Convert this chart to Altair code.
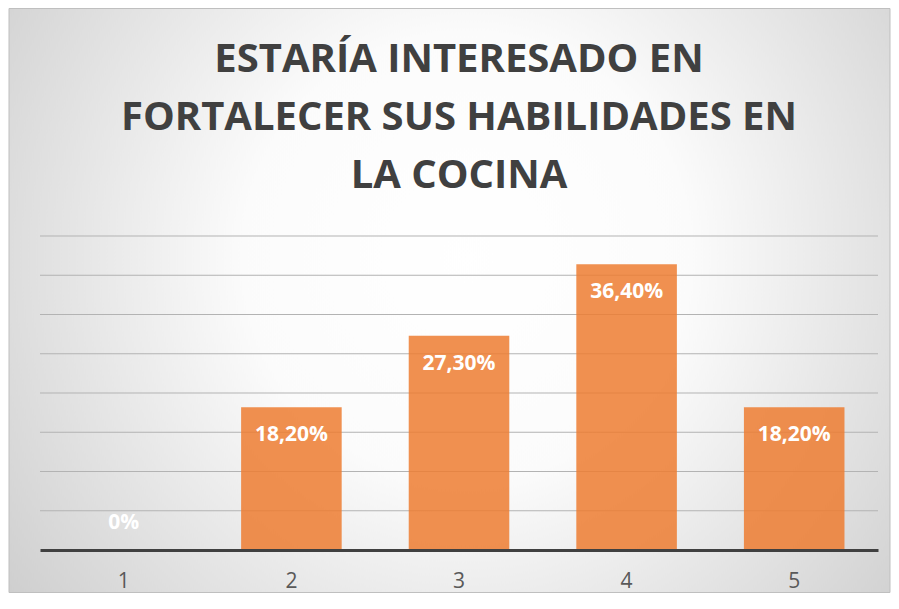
import altair as alt
import pandas as pd

categories = ["1", "2", "3", "4", "5"]
values = [0.0, 0.182, 0.273, 0.364, 0.182]
labels = ["0%", "18,20%", "27,30%", "36,40%", "18,20%"]
grid_values = [0.05, 0.10, 0.15, 0.20, 0.25, 0.30, 0.35, 0.40]
title_lines = ["ESTARÍA INTERESADO EN", "FORTALECER SUS HABILIDADES EN", "LA COCINA"]

W, H = 838, 314
df = pd.DataFrame({"cat": categories, "val": values, "lab": labels})
grid_df = pd.DataFrame({"g": grid_values})

yscale = alt.Scale(domain=[0, 0.40], nice=False, zero=True)
xenc = alt.X("cat:N", sort=categories, title=None,
             scale=alt.Scale(paddingInner=0.4, paddingOuter=0.2),
             axis=alt.Axis(labelAngle=0, labelFontSize=21, labelColor="#595959",
                           labelFont="Open Sans", labelPadding=20,
                           ticks=False, domain=True, domainColor="#404040",
                           domainWidth=3, grid=False, zindex=1))

bg = alt.Chart(alt.Data(values=[{}])).mark_rect(
    fill={"gradient": "radial", "x1": 0.52, "y1": 0.45, "r1": 0,
          "x2": 0.52, "y2": 0.45, "r2": 0.72,
          "stops": [{"offset": 0, "color": "#ffffff"},
                    {"offset": 0.35, "color": "#fbfbfb"},
                    {"offset": 1, "color": "#c6c6c6"}]},
    stroke="#bfbfbf", strokeWidth=1
).encode(x=alt.value(-31), x2=alt.value(850), y=alt.value(-227.5), y2=alt.value(356.5))

title = alt.Chart(alt.Data(values=[{}])).mark_text(
    text=title_lines, font="Open Sans", fontWeight="bold", fontSize=40,
    color="#404040", lineHeight=58, align="center", baseline="alphabetic"
).encode(x=alt.value(W / 2), y=alt.value(-164))

grid = alt.Chart(grid_df).mark_rule(color="#b3b3b3", strokeWidth=1).encode(
    y=alt.Y("g:Q", scale=yscale, axis=None),
    x=alt.value(0), x2=alt.value(W))

bars = alt.Chart(df).mark_bar(color="#ED7D31", opacity=0.85).encode(
    x=xenc,
    y=alt.Y("val:Q", scale=yscale, axis=None))

text_style = dict(color="white", fontWeight="bold", fontSize=21,
                  font="Open Sans", baseline="middle", align="center")
text_enc = dict(x=alt.X("cat:N", sort=categories),
                y=alt.Y("val:Q", scale=yscale, axis=None),
                text="lab:N")

text_in = alt.Chart(df).mark_text(dy=28, **text_style).encode(**text_enc).transform_filter(
    alt.datum.val > 0)
text_zero = alt.Chart(df).mark_text(dy=-27, **text_style).encode(**text_enc).transform_filter(
    alt.datum.val <= 0)

chart = alt.layer(bg, title, grid, bars, text_in, text_zero).properties(
    width=W, height=H,
    autosize=alt.AutoSizeParams(type="none"),
    padding={"left": 32, "top": 228, "right": 13, "bottom": 43},
).configure_view(stroke=None)

chart.save("out.html", embed_options={"renderer": "svg", "actions": False})
